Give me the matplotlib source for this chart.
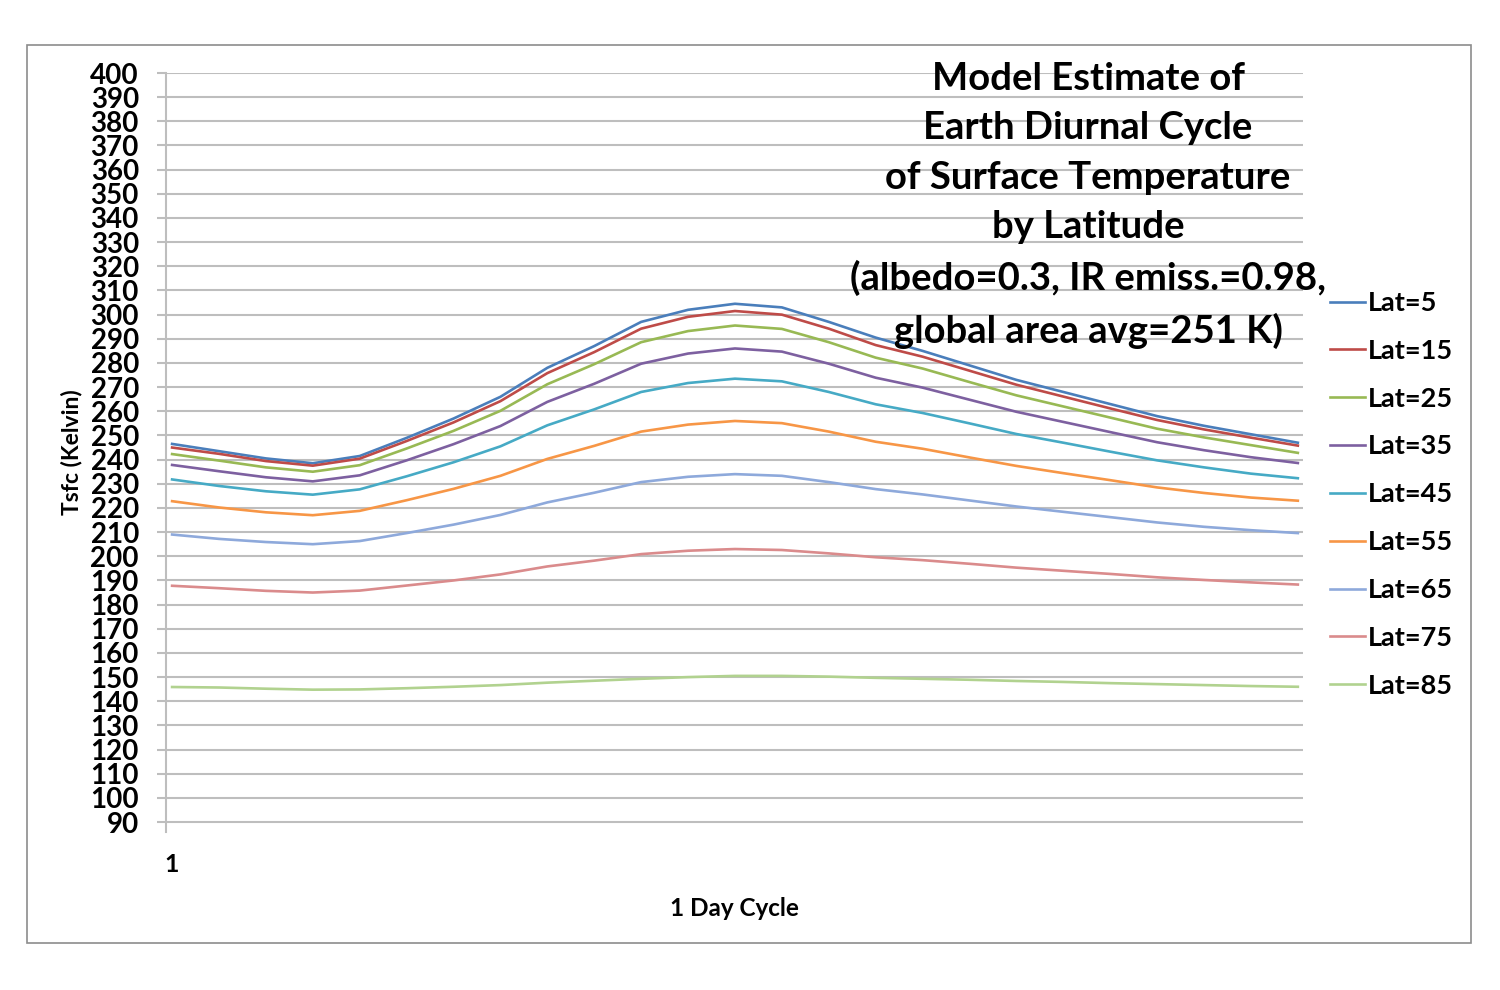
import numpy as np
import matplotlib.pyplot as plt
from matplotlib.patches import Rectangle

plt.rcParams['font.family'] = ['Lato', 'DejaVu Sans']
plt.rcParams['font.weight'] = 'bold'
plt.rcParams['axes.labelweight'] = 'bold'

# hourly points over one day cycle
hours = list(range(25))

lat5 = [246.5, 243.5, 240.5, 238.5, 241.5, 249, 257, 266, 278, 287, 297, 302, 304.5,
        303, 297, 290.5, 285, 279, 273, 268, 263, 258, 254, 250.5, 247]
lat15 = [245, 242.4, 239.4, 237.5, 240.4, 247.7, 255.4, 264.2, 275.8, 284.5, 294.2, 299.1, 301.5,
         300, 294.2, 287.4, 282.6, 276.8, 271, 266.1, 261.2, 256.4, 252.5, 249.1, 245.8]
lat25 = [242.3, 239.6, 236.8, 235, 237.7, 244.6, 251.9, 260.2, 271.2, 279.5, 288.6, 293.2, 295.5,
         294.1, 288.6, 282.2, 277.7, 272.1, 266.6, 262, 257.4, 252.8, 249.2, 246, 242.8]
lat35 = [237.8, 235.2, 232.7, 231, 233.5, 239.7, 246.4, 253.9, 263.9, 271.4, 279.7, 283.9, 286,
         284.7, 279.7, 273.9, 269.8, 264.8, 259.8, 255.6, 251.4, 247.2, 243.9, 241, 238.6]
lat45 = [231.8, 229.1, 226.9, 225.5, 227.7, 233.1, 238.9, 245.5, 254.2, 260.8, 268, 271.7, 273.5,
         272.4, 268, 262.9, 259.3, 255, 250.6, 247, 243.3, 239.7, 236.8, 234.2, 232.3]
lat55 = [222.8, 220.2, 218.2, 217, 218.8, 223.2, 227.9, 233.3, 240.3, 245.7, 251.6, 254.5, 256,
         255.1, 251.6, 247.4, 244.5, 240.9, 237.4, 234.4, 231.5, 228.5, 226.2, 224.3, 223]
lat65 = [209, 207.2, 205.9, 205, 206.3, 209.6, 213.1, 217.1, 222.3, 226.3, 230.7, 232.9, 234,
         233.3, 230.7, 227.8, 225.6, 223.1, 220.6, 218.4, 216.2, 214, 212.2, 210.8, 209.6]
lat75 = [187.8, 186.8, 185.7, 185, 185.8, 187.9, 190, 192.5, 195.8, 198.2, 200.9, 202.3, 203,
         202.6, 201.2, 199.6, 198.4, 196.9, 195.3, 194, 192.7, 191.3, 190.2, 189.2, 188.3]
lat85 = [145.9, 145.7, 145.2, 144.8, 144.9, 145.4, 146, 146.7, 147.7, 148.5, 149.3, 150, 150.5,
         150.5, 150.2, 149.7, 149.3, 148.9, 148.4, 148, 147.5, 147.1, 146.7, 146.3, 146]

series = [lat5, lat15, lat25, lat35, lat45, lat55, lat65, lat75, lat85]
labels = ['Lat=5', 'Lat=15', 'Lat=25', 'Lat=35', 'Lat=45', 'Lat=55', 'Lat=65', 'Lat=75', 'Lat=85']
colors = ['#4A7EBB', '#BE4B48', '#98B954', '#7D60A0', '#46AAC5', '#F79646',
          '#8EA9DB', '#DA8B8C', '#B1D28F']

fig = plt.figure(figsize=(15, 9.9), dpi=100)
ax = fig.add_axes([166/1500, 1-832/990, (1303-166)/1500, (832-73)/990])

for vals, lab, c in zip(series, labels, colors):
    ax.plot(hours, vals, color=c, lw=1.9, label=lab, solid_joinstyle='round')

ax.set_ylim(85.9, 400)
ax.set_xlim(-0.13, 24.11)
ax.set_yticks(np.arange(90, 401, 10))
ax.grid(axis='y', color='#BEBEBE', lw=1.5)
ax.set_axisbelow(True)
for s in ['top', 'right', 'bottom']:
    ax.spines[s].set_visible(False)
ax.spines['left'].set_color('#BEBEBE')
ax.spines['left'].set_linewidth(1.5)
ax.tick_params(axis='y', length=6.5, width=1.5, color='#BEBEBE', pad=13, labelsize=20)
ax.set_xticks([0])
ax.set_xticklabels(['1'])
ax.tick_params(axis='x', length=0, pad=15, labelsize=18)

ax.set_ylabel('Tsfc (Kelvin)', fontsize=16.5, labelpad=6)
ax.set_xlabel('1 Day Cycle', fontsize=17.5, labelpad=15)

fig.text(1088/1500, 1-62/990,
         'Model Estimate of\nEarth Diurnal Cycle\nof Surface Temperature\nby Latitude\n'
         '(albedo=0.3, IR emiss.=0.98,\nglobal area avg=251 K)',
         ha='center', va='top', fontsize=27.5, linespacing=1.545)

ax.legend(loc='upper left', bbox_to_anchor=(1330/1500, 1-291/990), bbox_transform=fig.transFigure,
          frameon=False, fontsize=19.5, handlelength=1.3, handletextpad=0.1, labelspacing=0.88,
          borderaxespad=0, borderpad=0)

fig.patches.append(Rectangle((27/1500, 1-943/990), 1444/1500, 898/990, transform=fig.transFigure,
                             fill=False, edgecolor='#8C8C8C', lw=1.2))

fig.savefig('out.png', dpi=100)
